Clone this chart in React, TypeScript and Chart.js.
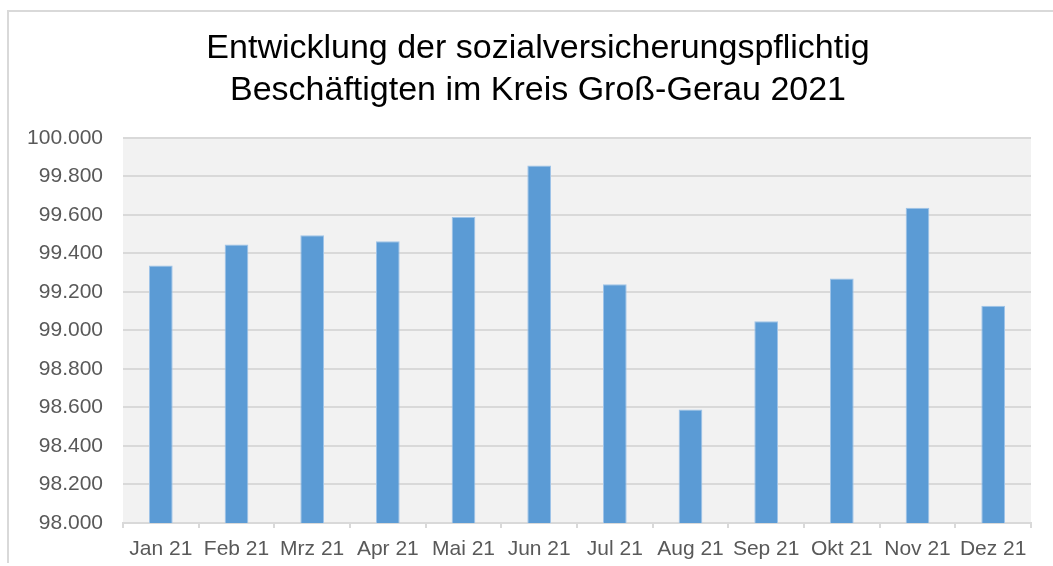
import React, { useEffect, useRef } from "react";
import { Chart, registerables } from "chart.js";

Chart.register(...registerables);

const categories = [
  "Jan 21", "Feb 21", "Mrz 21", "Apr 21", "Mai 21", "Jun 21",
  "Jul 21", "Aug 21", "Sep 21", "Okt 21", "Nov 21", "Dez 21",
];
const employees = [
  99337, 99446, 99495, 99464, 99589, 99857,
  99240, 98590, 99048, 99270, 99637, 99129,
];
const titleLines = [
  "Entwicklung der sozialversicherungspflichtig",
  "Beschäftigten im Kreis Groß-Gerau 2021",
];
const yMin = 98000;
const yMax = 100000;
const yStep = 200;

const FONT = "'Liberation Sans', Arial, sans-serif";

function formatDE(v: number): string {
  return Math.round(v)
    .toString()
    .replace(/\B(?=(\d{3})+(?!\d))/g, ".");
}

const plotBg = {
  id: "plotBg",
  afterLayout(chart: any) {
    if (chart.titleBlock) {
      chart.titleBlock.left = 45;
    }
  },
  beforeDraw(chart: any) {
    const { ctx, chartArea } = chart;
    if (!chartArea) return;
    ctx.save();
    ctx.fillStyle = "#F2F2F2";
    ctx.fillRect(
      chartArea.left,
      chartArea.top,
      chartArea.right - chartArea.left,
      chartArea.bottom - chartArea.top
    );
    ctx.restore();
  },
};

export default function App() {
  const ref = useRef<HTMLCanvasElement | null>(null);

  useEffect(() => {
    if (!ref.current) return;
    const chart = new Chart(ref.current, {
      type: "bar",
      data: {
        labels: categories,
        datasets: [
          {
            data: employees,
            backgroundColor: "#5B9BD5",
            borderColor: "#9FC4E8",
            borderWidth: 1,
            barPercentage: 0.313,
            categoryPercentage: 1,
          },
        ],
      },
      options: {
        animation: false,
        responsive: false,
        maintainAspectRatio: false,
        layout: { padding: { left: 20, right: 22, top: 0, bottom: 0 } },
        plugins: {
          legend: { display: false },
          tooltip: { enabled: false },
          title: {
            display: true,
            text: titleLines,
            color: "#000000",
            font: { family: FONT, size: 34, weight: "normal", lineHeight: 1.22 },
            padding: { top: 28, bottom: 27 },
          },
        },
        scales: {
          x: {
            grid: {
              display: true,
              drawOnChartArea: false,
              drawTicks: true,
              tickLength: 5,
              color: "#D9D9D9",
              lineWidth: 2,
              offset: true,
            },
            border: { display: true, color: "#D9D9D9", width: 2 },
            ticks: {
              color: "#595959",
              font: { family: FONT, size: 21 },
              padding: 9,
              maxRotation: 0,
              autoSkip: false,
            },
            afterFit: (scale: any) => {
              scale.height = 43;
            },
          },
          y: {
            min: yMin,
            max: yMax,
            grid: {
              color: "#D9D9D9",
              lineWidth: 2,
              drawTicks: false,
            },
            border: { display: false },
            ticks: {
              stepSize: yStep,
              color: "#595959",
              font: { family: FONT, size: 21 },
              padding: 20,
              callback: (v: any) => formatDE(Number(v)),
            },
            afterFit: (scale: any) => {
              scale.width = 103;
            },
          },
        },
      },
      plugins: [plotBg],
    });
    return () => chart.destroy();
  }, []);

  return (
    <div
      style={{
        position: "absolute",
        left: 0,
        top: 0,
        width: 1053,
        height: 566,
        overflow: "hidden",
        background: "#ffffff",
      }}
    >
      <div
        style={{
          position: "absolute",
          left: 7,
          top: 10,
          width: 1200,
          height: 551,
          borderTop: "2px solid #D9D9D9",
          borderLeft: "2px solid #D9D9D9",
        }}
      />
      <canvas
        ref={ref}
        width={1053}
        height={566}
        style={{ position: "absolute", left: 0, top: 0, width: 1053, height: 566 }}
      />
    </div>
  );
}
